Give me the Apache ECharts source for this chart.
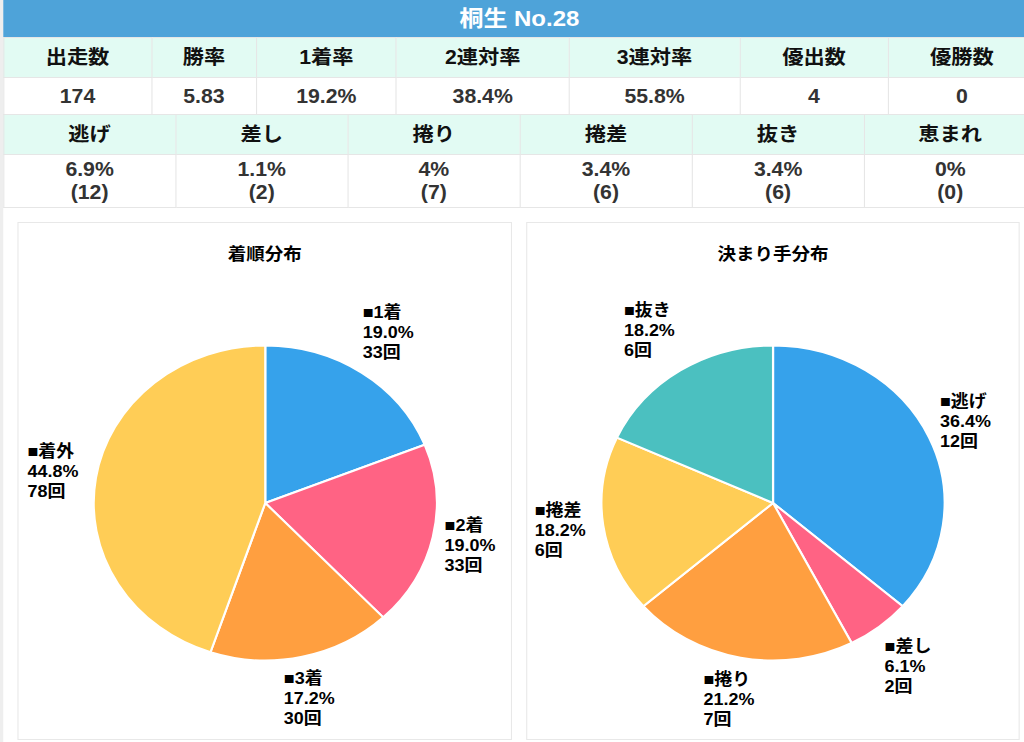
<!DOCTYPE html>
<html><head><meta charset="utf-8">
<script src="https://cdn.jsdelivr.net/npm/echarts@6/dist/echarts.min.js"></script>
<style>
html,body{margin:0;padding:0;width:1024px;height:742px;overflow:hidden;background:#fff;}
#wrap{position:absolute;left:0;top:0;width:940px;height:742px;transform:scaleX(1.0894);transform-origin:0 0;font-family:"Liberation Sans","Noto Sans CJK JP",sans-serif;}
#strip{position:absolute;left:0;top:0;width:2.75px;height:742px;background:#eeeeee;}
#bar{position:absolute;left:2.75px;top:0;width:948px;height:37px;background:#4ea3d9;color:#fff;font-weight:bold;font-size:22px;line-height:37px;text-align:center;}
table{position:absolute;left:2.75px;border-collapse:collapse;table-layout:fixed;width:948px;}
td{border:1.5px solid #e6e6e6;text-align:center;font-weight:bold;font-size:19.5px;padding:0;line-height:23px;}
td.h{background:#e2fbf3;color:#111;}
td.v{background:#fff;color:#333;}
.box{position:absolute;top:222px;height:518px;border:1.5px solid #e8e8e8;box-sizing:border-box;background:#fff;}
.chart{position:absolute;left:0;top:0;right:0;bottom:0;}
</style>
</head><body>
<div id="wrap">
  <div id="strip"></div>
  <div id="bar"></div>
  <table id="t1" style="top:37px"></table>
  <table id="t2" style="top:114px"></table>
  <div class="box" style="left:15.6px;width:454px;"><div class="chart" id="c1"></div></div>
  <div class="box" style="left:482.6px;width:453px;"><div class="chart" id="c2"></div></div>
</div>
<script>
// ---- data ----
const racerTitle = '桐生 No.28';
const statHeaders = ['出走数','勝率','1着率','2連対率','3連対率','優出数','優勝数'];
const statValues = ['174','5.83','19.2%','38.4%','55.8%','4','0'];
const kimariteHeaders = ['逃げ','差し','捲り','捲差','抜き','恵まれ'];
const kimaritePct = ['6.9%','1.1%','4%','3.4%','3.4%','0%'];
const kimariteCounts = [12,2,7,6,6,0];
const placeNames = ['1着','2着','3着','着外'];
const placeCounts = [33,33,30,78];
const pieColors1 = ['#36a2eb','#ff6384','#ff9f40','#ffcd56'];
const pieColors2 = ['#36a2eb','#ff6384','#ff9f40','#ffcd56','#4bc0c0'];

// ---- tables ----
document.getElementById('bar').textContent = racerTitle;
const t1Widths = [135.8, 96.3, 128.4, 158.7, 156.9, 135.8, 135.8];
function buildTable(id, headers, values, widths, h1, h2) {
  const t = document.getElementById(id);
  const cg = document.createElement('colgroup');
  widths.forEach(w => { const c = document.createElement('col'); c.style.width = w + 'px'; cg.appendChild(c); });
  t.appendChild(cg);
  const r1 = document.createElement('tr'); r1.style.height = h1 + 'px';
  headers.forEach(h => { const d = document.createElement('td'); d.className = 'h'; d.textContent = h; r1.appendChild(d); });
  const r2 = document.createElement('tr'); r2.style.height = h2 + 'px';
  values.forEach(v => { const d = document.createElement('td'); d.className = 'v'; d.innerHTML = v; r2.appendChild(d); });
  t.appendChild(r1); t.appendChild(r2);
}
buildTable('t1', statHeaders, statValues, t1Widths, 40, 37);
buildTable('t2', kimariteHeaders, kimaritePct.map((p, i) => p + '<br>(' + kimariteCounts[i] + ')'),
  kimariteHeaders.map(() => 158), 40, 53);

// ---- charts ----
const FONT = '"Liberation Sans","Noto Sans CJK JP",sans-serif';
const PIE_R = 157.5, RING_MID = 201, LABEL_OFF = 12, LABEL_W = 50, LABEL_H = 60;
function pieOption(title, names, counts, colors, center) {
  const total = counts.reduce((a, b) => a + b, 0);
  const data = names.map((n, i) => ({ name: n, value: counts[i] }));
  // label box anchored just outside the slice edge along its mid-angle
  const pos = [];
  let cum = 0;
  counts.forEach(v => {
    const th = 2 * Math.PI * (cum + v / 2) / total;
    cum += v;
    const ux = Math.sin(th), uy = -Math.cos(th);
    const t = Math.min(Math.abs(ux) > 1e-6 ? (LABEL_W / 2) / Math.abs(ux) : 1e9,
                       Math.abs(uy) > 1e-6 ? (LABEL_H / 2) / Math.abs(uy) : 1e9);
    const d = PIE_R + LABEL_OFF + t;
    pos.push([center[0] + ux * d, center[1] + uy * d]);
  });
  return {
    animation: false,
    color: colors,
    title: { text: title, left: 'center', top: 18,
      textStyle: { fontSize: 17, fontWeight: 'bold', color: '#000', fontFamily: FONT } },
    series: [
      { type: 'pie', center: center, radius: PIE_R, startAngle: 90, clockwise: true, silent: true,
        label: { show: false }, labelLine: { show: false },
        itemStyle: { borderColor: '#fff', borderWidth: 2 }, data: data },
      { type: 'pie', center: center, radius: [RING_MID - 10, RING_MID + 10], startAngle: 90, clockwise: true, silent: true,
        itemStyle: { color: 'rgba(0,0,0,0)' }, labelLine: { show: false },
        emphasis: { disabled: true },
        labelLayout: p => ({ x: pos[p.dataIndex][0], y: pos[p.dataIndex][1], align: 'center', verticalAlign: 'middle' }),
        label: { show: true, position: 'inside', overflow: 'none', color: '#000', textBorderWidth: 0,
          formatter: p => '{a|■' + p.name + '}\n{a|' + (p.value / total * 100).toFixed(1) + '%}\n{a|' + p.value + '回}',
          rich: { a: { width: 52, align: 'left', fontSize: 16.5, fontWeight: 'bold', lineHeight: 20,
            color: '#000', fontFamily: FONT, textBorderWidth: 0 } } },
        data: data }
    ]
  };
}
const c1 = echarts.init(document.getElementById('c1'), null, { renderer: 'svg' });
c1.setOption(pieOption('着順分布', placeNames, placeCounts, pieColors1, [226.5, 280]));
const kNames = kimariteHeaders.filter((n, i) => kimariteCounts[i] > 0);
const kVals = kimariteCounts.filter(v => v > 0);
const c2 = echarts.init(document.getElementById('c2'), null, { renderer: 'svg' });
c2.setOption(pieOption('決まり手分布', kNames, kVals, pieColors2, [225.6, 280]));
</script>
</body></html>
